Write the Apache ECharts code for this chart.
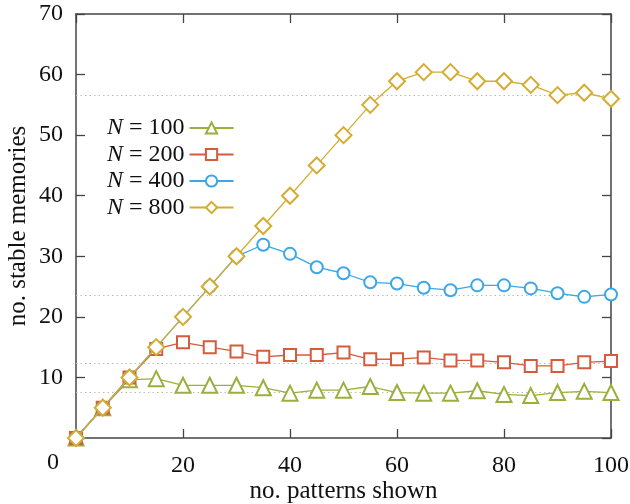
<!DOCTYPE html>
<html>
<head>
<meta charset="utf-8">
<script src="https://cdn.jsdelivr.net/npm/echarts@6/dist/echarts.min.js"></script>
<style>html,body{margin:0;padding:0;background:#fff;}#c{width:630px;height:504px;}</style>
</head>
<body>
<div id="c"></div>
<script>
const patterns = [0,5,10,15,20,25,30,35,40,45,50,55,60,65,70,75,80,85,90,95,100];
const n100 = [0,5,9.6,9.8,8.7,8.7,8.7,8.3,7.4,7.9,7.9,8.5,7.5,7.4,7.4,7.8,7.2,7.0,7.5,7.7,7.5];
const n200 = [0,5,10,14.7,15.8,15.0,14.3,13.4,13.7,13.7,14.1,13.0,13.0,13.3,12.8,12.8,12.5,11.9,11.9,12.5,12.7];
const n400 = [0,5,10,15,20,25,30,31.9,30.4,28.2,27.2,25.7,25.5,24.8,24.4,25.2,25.2,24.7,23.9,23.3,23.7];
const n800 = [0,5,10,15,20,25,30,35,40,45,50,55,58.9,60.4,60.4,58.9,58.9,58.3,56.6,57.0,56.0];
const seriesNames = ['N=100','N=200','N=400','N=800'];
const legendLabels = ['100','200','400','800'];
const meanLevels = [7.5, 12.4, 23.6, 56.6];
const xTicks = [0,20,40,60,80,100];
const yTicks = [0,10,20,30,40,50,60,70];

const colors = ['#9cae3c','#d65a3c','#3aa8e8','#d5ac32'];
const symbols = ['emptyTriangle','emptyRect','emptyCircle','emptyDiamond'];
const sizes = [15,12,12,16];
const datasets = [n100,n200,n400,n800];
const font = 'Liberation Serif';

const series = datasets.map((d,i)=>({
  name: seriesNames[i],
  type: 'line',
  data: patterns.map((x,j)=>[x,d[j]]),
  symbol: symbols[i],
  symbolSize: sizes[i],
  z: 3+i,
  lineStyle: {color: colors[i], width: 1.3},
  itemStyle: {color: colors[i], borderWidth: 1.3},
  emphasis: {disabled: true},
  markLine: {
    silent: true, symbol: 'none', z: 1,
    label: {show: false},
    lineStyle: {color: '#bbbbbb', type: [1.5,3], width: 1},
    data: [{yAxis: meanLevels[i]}]
  }
}));

const axisLine = {show: true, onZero: false, lineStyle: {color: '#444', width: 1.5}};
const tick = {inside: true, length: 9, lineStyle: {color: '#444', width: 1.3}};
const chart = echarts.init(document.getElementById('c'), null, {renderer: 'canvas'});
chart.setOption({
  animation: false,
  backgroundColor: '#fff',
  grid: {left: 76, right: 19, top: 14, bottom: 66, outerBoundsMode: 'none'},
  xAxis: [{
    type: 'value', min: 0, max: 100, interval: 20,
    name: 'no. patterns shown', nameLocation: 'middle', nameGap: 41, nameMoveOverlap: false,
    nameTextStyle: {fontFamily: font, fontSize: 25, color: '#111'},
    axisLine: axisLine, axisTick: tick,
    axisLabel: {margin: 16, fontFamily: font, fontSize: 24, color: '#111',
      formatter: v => (v === 0 ? '' : String(v))},
    splitLine: {show: false}
  },{
    type: 'value', position: 'top', min: 0, max: 100, interval: 20,
    axisLine: axisLine, axisTick: tick,
    axisLabel: {show: false}, splitLine: {show: false}
  }],
  yAxis: [{
    type: 'value', min: 0, max: 70, interval: 10,
    name: 'no. stable memories', nameLocation: 'middle', nameGap: 45, nameMoveOverlap: false,
    nameTextStyle: {fontFamily: font, fontSize: 25, color: '#111'},
    axisLine: axisLine, axisTick: tick,
    axisLabel: {margin: 13, fontFamily: font, fontSize: 24, color: '#111',
      formatter: v => (v === 0 ? '' : String(v))},
    splitLine: {show: false}
  },{
    type: 'value', position: 'right', min: 0, max: 70, interval: 10,
    axisLine: axisLine, axisTick: tick,
    axisLabel: {show: false}, splitLine: {show: false}
  }],
  legend: {
    left: 102, top: 111, orient: 'vertical', align: 'right',
    itemWidth: 44, itemHeight: 14, itemGap: 2.5,
    data: seriesNames,
    formatter: name => '{i|N} = ' + legendLabels[seriesNames.indexOf(name)],
    textStyle: {fontFamily: font, fontSize: 24, color: '#111', lineHeight: 24,
      rich: {i: {fontFamily: font, fontSize: 24, fontStyle: 'italic', color: '#111'}}},
    selectedMode: false
  },
  graphic: [{
    type: 'text', left: 47, top: 451,
    style: {text: String(xTicks[0]), font: '24px "Liberation Serif"', fill: '#111'}
  }],
  series: series
});
</script>
</body>
</html>
